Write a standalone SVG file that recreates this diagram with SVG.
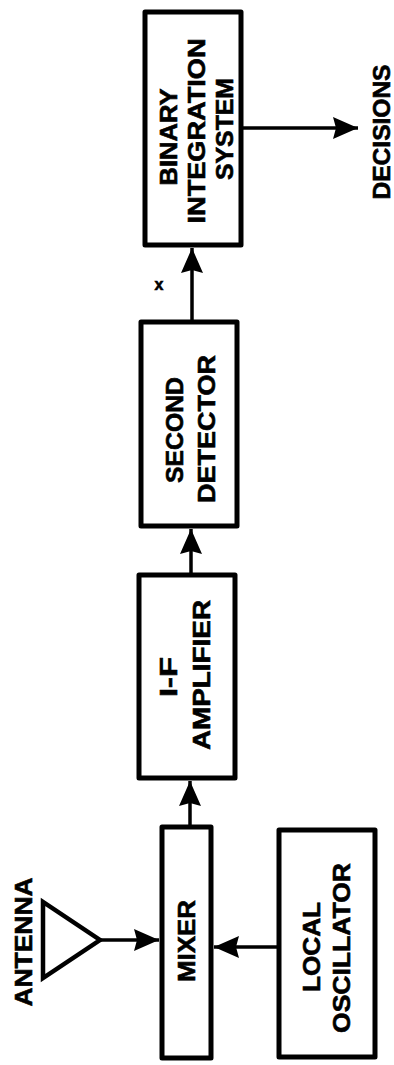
<svg xmlns="http://www.w3.org/2000/svg" width="394" height="1065" viewBox="0 0 394 1065">
<style>
.box{fill:#fff;stroke:#000;stroke-width:5;stroke-linejoin:round}
.lbl{font-family:"Liberation Sans",Arial,sans-serif;font-weight:bold;font-size:23px;fill:#000;stroke:#000;stroke-width:0.6;text-anchor:middle}
.ln{stroke:#000;stroke-width:3.5;fill:none}
</style>
<defs>
<marker id="ah" markerUnits="userSpaceOnUse" markerWidth="28" markerHeight="24" refX="25" refY="12" orient="auto">
<path d="M0,1 L25,12 L0,23 L3,12 Z" fill="#000"/>
</marker>
</defs>
<rect width="394" height="1065" fill="#fff"/>
<g id="connectors">
<line class="ln" x1="190" y1="825" x2="190" y2="781" marker-end="url(#ah)"/>
<line class="ln" x1="191" y1="573" x2="191" y2="529" marker-end="url(#ah)"/>
<line class="ln" x1="192" y1="320" x2="192" y2="248" marker-end="url(#ah)"/>
<line class="ln" x1="243" y1="128" x2="358" y2="128" marker-end="url(#ah)"/>
<line class="ln" x1="100" y1="940" x2="159" y2="940" marker-end="url(#ah)"/>
<line class="ln" x1="277" y1="947" x2="214" y2="947" marker-end="url(#ah)"/>
<text class="lbl" x="159" y="290" style="font-size:16px">x</text>
</g>
<g id="antenna">
<polygon points="43,902 43,978 100,940" fill="none" stroke="#000" stroke-width="4.5" stroke-linejoin="miter"/>
<text class="lbl" transform="translate(32,942) rotate(-90)" textLength="129" lengthAdjust="spacingAndGlyphs">ANTENNA</text>
</g>
<g id="mixer">
<rect class="box" x="162" y="827" width="49" height="231"/>
<text class="lbl" transform="translate(195,941) rotate(-90)" textLength="82" lengthAdjust="spacingAndGlyphs">MIXER</text>
</g>
<g id="local-oscillator">
<rect class="box" x="279" y="830" width="96" height="227"/>
<text class="lbl" transform="translate(320,947) rotate(-90)" textLength="90" lengthAdjust="spacingAndGlyphs">LOCAL</text>
<text class="lbl" transform="translate(350,948) rotate(-90)" textLength="170" lengthAdjust="spacingAndGlyphs">OSCILLATOR</text>
</g>
<g id="if-amplifier">
<rect class="box" x="139" y="575" width="96" height="203"/>
<text class="lbl" transform="translate(177,677) rotate(-90)" textLength="40" lengthAdjust="spacingAndGlyphs">I-F</text>
<text class="lbl" transform="translate(210,675) rotate(-90)" textLength="150" lengthAdjust="spacingAndGlyphs">AMPLIFIER</text>
</g>
<g id="second-detector">
<rect class="box" x="141" y="322" width="96" height="204"/>
<text class="lbl" transform="translate(183,430) rotate(-90)" textLength="106" lengthAdjust="spacingAndGlyphs">SECOND</text>
<text class="lbl" transform="translate(215,429) rotate(-90)" textLength="148" lengthAdjust="spacingAndGlyphs">DETECTOR</text>
</g>
<g id="binary-integration">
<rect class="box" x="145" y="12" width="96" height="233"/>
<text class="lbl" transform="translate(177,137) rotate(-90)" textLength="97" lengthAdjust="spacingAndGlyphs">BINARY</text>
<text class="lbl" transform="translate(205,131) rotate(-90)" textLength="185" lengthAdjust="spacingAndGlyphs">INTEGRATION</text>
<text class="lbl" transform="translate(233,129) rotate(-90)" textLength="102" lengthAdjust="spacingAndGlyphs">SYSTEM</text>
</g>
<g id="decisions">
<text class="lbl" transform="translate(390,132) rotate(-90)" textLength="135" lengthAdjust="spacingAndGlyphs">DECISIONS</text>
</g>
</svg>
